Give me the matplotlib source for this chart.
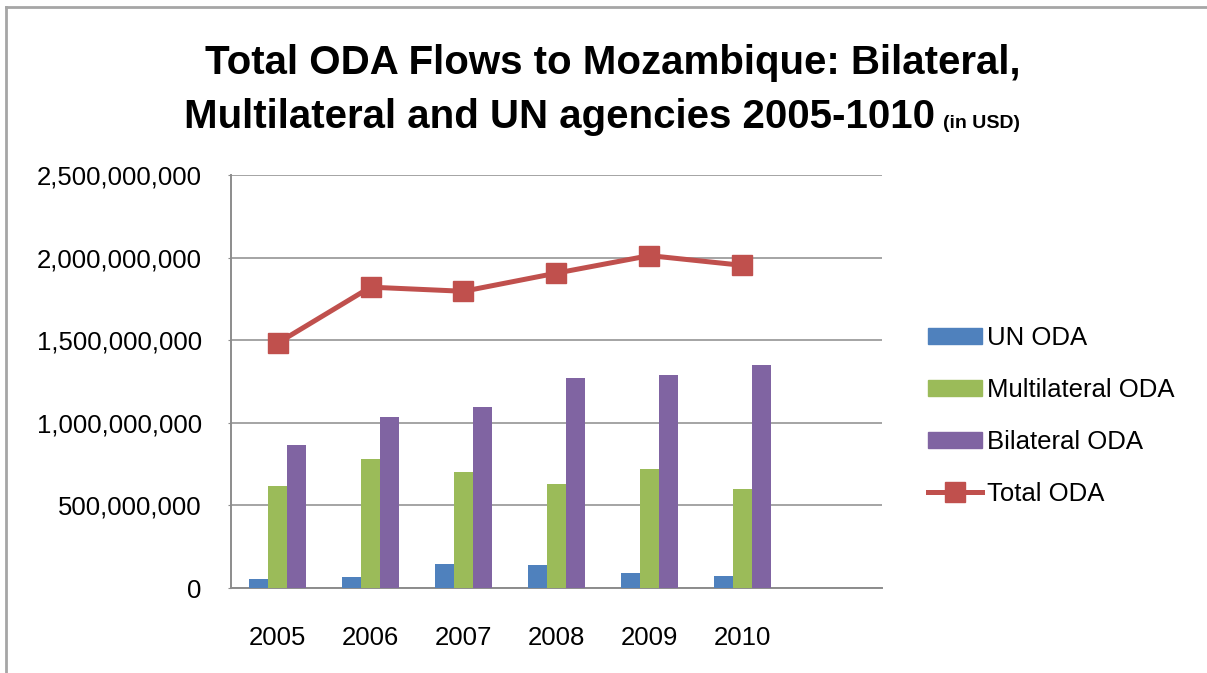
import numpy as np
import matplotlib
matplotlib.use("Agg")
import matplotlib.pyplot as plt
from matplotlib.patches import Patch
from matplotlib.lines import Line2D
from matplotlib.text import Annotation
from matplotlib.ticker import FuncFormatter, MultipleLocator

plt.rcParams["font.family"] = ["Liberation Sans", "DejaVu Sans"]

# --- data (USD) ---
years = ["2005", "2006", "2007", "2008", "2009", "2010"]
un_oda = [53e6, 69e6, 148e6, 142e6, 93e6, 75e6]
multilateral_oda = [615e6, 782e6, 700e6, 630e6, 721e6, 600e6]
bilateral_oda = [867e6, 1037e6, 1095e6, 1271e6, 1287e6, 1350e6]
total_oda = [1482e6, 1821e6, 1796e6, 1906e6, 2012e6, 1953e6]

COLORS = {
    "un":    "#4F81BD",
    "multi": "#9BBB59",
    "bilat": "#8064A2",
    "total": "#C0504D",
    "grid":  "#8C8C8C",
}

fig = plt.figure(figsize=(12.07, 6.73), dpi=100)
ax = fig.add_axes([0.1914, 0.1263, 0.7307 - 0.1914, 0.740 - 0.1263])

x = np.arange(len(years))
w = 0.205

# --- barras ---
ax.bar(x - w, un_oda, w, color=COLORS["un"], zorder=3)
ax.bar(x, multilateral_oda, w, color=COLORS["multi"], zorder=3)
ax.bar(x + w, bilateral_oda, w, color=COLORS["bilat"], zorder=3)

# --- linha total ---
ax.plot(x, total_oda, color=COLORS["total"], lw=3.6, marker="s", ms=14,
        mec=COLORS["total"], zorder=4)

# Excel deixa uma categoria vazia à direita
ax.set_xlim(-0.5, len(years) + 0.5)
ax.set_ylim(0, 2.5e9)
ax.yaxis.set_major_locator(MultipleLocator(5e8))
ax.yaxis.set_major_formatter(FuncFormatter(lambda v, p: f"{v:,.0f}"))
ax.set_xticks(x)
ax.set_xticklabels(years)

ax.grid(axis="y", color=COLORS["grid"], lw=1.1, zorder=0)
ax.set_axisbelow(True)
for s in ["top", "right"]:
    ax.spines[s].set_visible(False)
for s in ["left", "bottom"]:
    ax.spines[s].set_color(COLORS["grid"])
    ax.spines[s].set_linewidth(1.4)

ax.tick_params(axis="y", length=2, color=COLORS["grid"], pad=19, labelsize=18.5)
ax.tick_params(axis="x", length=0, pad=27, labelsize=18.5)

# --- legenda ---
handles = [
    Patch(color=COLORS["un"], label="UN ODA"),
    Patch(color=COLORS["multi"], label="Multilateral ODA"),
    Patch(color=COLORS["bilat"], label="Bilateral ODA"),
    Line2D([], [], color=COLORS["total"], lw=3.6, marker="s", ms=14,
           mec=COLORS["total"], label="Total ODA"),
]
fig.legend(handles=handles, loc="center left", bbox_to_anchor=(928 / 1207, 1 - 416 / 673),
           frameon=False, fontsize=18.5, handlelength=2.1, handleheight=0.57,
           handletextpad=0.2, labelspacing=1.08, borderpad=0, borderaxespad=0)

# --- título ---
fig.text(0.508, 1 - 63 / 673, "Total ODA Flows to Mozambique: Bilateral,",
         ha="center", va="center", fontsize=29, fontweight="bold")
t2 = fig.text(935 / 1207, 1 - 117 / 673, "Multilateral and UN agencies 2005-1010",
              ha="right", va="center", fontsize=29, fontweight="bold")
fig.add_artist(Annotation(
    "(in USD)", xy=(1, 0), xycoords=t2, xytext=(6, 3), textcoords="offset points",
    ha="left", va="bottom", fontsize=14, fontweight="bold"))

# --- borda externa ---
fig.add_artist(Line2D([6 / 1207, 6 / 1207], [0, 1 - 7 / 673], color="#A6A6A6", lw=2))
fig.add_artist(Line2D([6 / 1207, 1], [1 - 7 / 673, 1 - 7 / 673], color="#A6A6A6", lw=2))

fig.savefig("out.png", dpi=100)
